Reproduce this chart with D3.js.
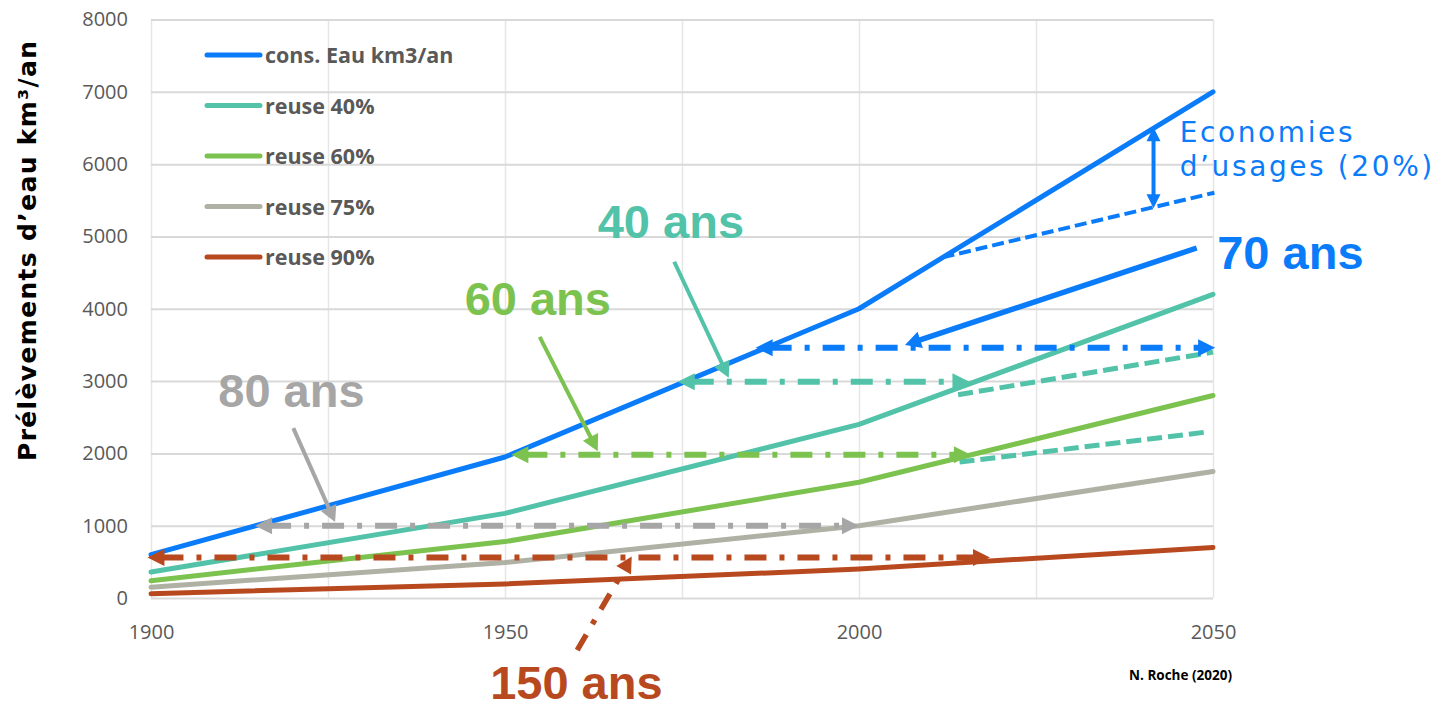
<!DOCTYPE html>
<html>
<head>
<meta charset="utf-8">
<script src="https://cdn.jsdelivr.net/npm/d3@7/dist/d3.min.js"></script>
<style>
  body { margin: 0; background: #fff; }
</style>
</head>
<body>
<svg id="chart" width="1447" height="709"></svg>
<script>
// data
var years = [1900, 1950, 2000, 2050];
var seriesNames = ["cons. Eau km3/an", "reuse 40%", "reuse 60%", "reuse 75%", "reuse 90%"];
var consEau = [600, 1950, 4000, 7000];
var reuse40 = [360, 1170, 2400, 4200];
var reuse60 = [240, 780, 1600, 2800];
var reuse75 = [150, 490, 1000, 1750];
var reuse90 = [60, 195, 400, 700];
var seriesValues = [consEau, reuse40, reuse60, reuse75, reuse90];

var yTicks = [0, 1000, 2000, 3000, 4000, 5000, 6000, 7000, 8000];
var xGrid = [1900, 1925, 1950, 1975, 2000, 2025, 2050];
var xLabels = [1900, 1950, 2000, 2050];

// annotations, in years / km3
var savingsLine = [[2011.8, 4710], [2050.2, 5605]];
var savingsArrow = [2041.6, 6510, 5390];
var reuseDashed = [
  [[2014, 2810], [2050, 3400]],
  [[2014.2, 1880], [2049.5, 2300]]
];
var spanLevels = [3460, 2990, 1980, 1000, 560];
var spanFrom = [1985.4, 1974.4, 1950.9, 1914.7, 1899.5];
var spanTo = [2050.3, 2015.6, 2015.8, 2000, 2018.5];
var pointerFrom = [[2047.7, 4840], [1973.9, 4650], [1954.9, 3610], [1920.1, 2350], [1960.2, -720]];
var pointerTo = [[2006.5, 3500], [1981.6, 3045], [1963.1, 2030], [1926.0, 1050], [1967.9, 575]];
var ageLabels = ["70 ans", "40 ans", "60 ans", "80 ans", "150 ans"];
var ageLabelAt = [[2050.6, 4550], [1963.1, 4978], [1944.3, 3914], [1909.5, 2641], [1947.9, -1400]];
var savingsText = ["Economies", "d\u2019usages (20%)"];
var savingsTextAt = [[2045.3, 6306], [2045.3, 5836]];

var colors = ["#0a7cfa", "#52c3a9", "#7cc24f", "#b0b1a5", "#b8491f"];
var spanColors = ["#0a7cfa", "#52c3a9", "#7cc24f", "#a6a6a6", "#b8491f"];
var labelColors = ["#0a7cfa", "#52c3a9", "#7cc24f", "#a6a6a6", "#b8491f"];

var svg = d3.select("#chart");
var x = d3.scaleLinear().domain([1900, 2050]).range([151, 1213]);
var y = d3.scaleLinear().domain([0, 8000]).range([598, 19.5]);

// grid + axes
var gx = svg.append("g").attr("transform", "translate(0,598)")
  .call(d3.axisBottom(x).tickValues(xGrid).tickSize(-(598 - 19.5)).tickPadding(27)
    .tickFormat(function(d) { return xLabels.indexOf(d) >= 0 ? d : ""; }));
gx.select(".domain").remove();
gx.selectAll(".tick line").attr("stroke", "#e6e6e6").attr("stroke-width", 1.5);
gx.selectAll(".tick text").attr("font-family", "Open Sans").attr("font-size", 20).attr("fill", "#595959");

var gy = svg.append("g").attr("transform", "translate(151,0)")
  .call(d3.axisLeft(y).tickValues(yTicks).tickSize(-(1213 - 151)).tickPadding(23).tickFormat(d3.format("d")));
gy.select(".domain").remove();
gy.selectAll(".tick line").attr("stroke", "#d9d9d9").attr("stroke-width", 2);
gy.selectAll(".tick text").attr("font-family", "Open Sans").attr("font-size", 20).attr("fill", "#595959");

// series
var line = d3.line().x(function(d) { return x(d[0]); }).y(function(d) { return y(d[1]); });
seriesValues.forEach(function(vals, i) {
  svg.append("path")
    .datum(years.map(function(yr, j) { return [yr, vals[j]]; }))
    .attr("d", line)
    .attr("fill", "none")
    .attr("stroke", colors[i])
    .attr("stroke-width", 5)
    .attr("stroke-linejoin", "round")
    .attr("stroke-linecap", "round");
});

// helpers
function head(tip, from, len, half, color) {
  var dx = tip[0] - from[0], dy = tip[1] - from[1];
  var d = Math.sqrt(dx * dx + dy * dy);
  var ux = dx / d, uy = dy / d;
  var bx = tip[0] - ux * len, by = tip[1] - uy * len;
  svg.append("polygon")
    .attr("points", [tip, [bx - uy * half, by + ux * half], [bx + uy * half, by - ux * half]]
      .map(function(p) { return p.join(","); }).join(" "))
    .attr("fill", color);
}
function shorten(a, b, len) {
  var dx = b[0] - a[0], dy = b[1] - a[1];
  var d = Math.sqrt(dx * dx + dy * dy);
  return [b[0] - dx / d * len, b[1] - dy / d * len];
}
var dashDot = "22,13,5,13";

// savings dashed line and double arrow
svg.append("line")
  .attr("x1", x(savingsLine[0][0])).attr("y1", y(savingsLine[0][1]))
  .attr("x2", x(savingsLine[1][0])).attr("y2", y(savingsLine[1][1]))
  .attr("stroke", colors[0]).attr("stroke-width", 4).attr("stroke-dasharray", "12,5");
(function() {
  var top = [x(savingsArrow[0]), y(savingsArrow[1])];
  var bot = [x(savingsArrow[0]), y(savingsArrow[2])];
  svg.append("line").attr("x1", top[0]).attr("y1", top[1] + 12).attr("x2", bot[0]).attr("y2", bot[1] - 12)
    .attr("stroke", colors[0]).attr("stroke-width", 4);
  head(top, bot, 14, 7, colors[0]);
  head(bot, top, 14, 7, colors[0]);
})();

// reuse dashed lines
reuseDashed.forEach(function(seg) {
  svg.append("line")
    .attr("x1", x(seg[0][0])).attr("y1", y(seg[0][1]))
    .attr("x2", x(seg[1][0])).attr("y2", y(seg[1][1]))
    .attr("stroke", colors[1]).attr("stroke-width", 5).attr("stroke-dasharray", "15,6");
});

// dash-dot range arrows
spanLevels.forEach(function(v, i) {
  var a = [x(spanFrom[i]), y(v)], b = [x(spanTo[i]), y(v)];
  svg.append("line")
    .attr("x1", a[0] + 14).attr("y1", a[1]).attr("x2", b[0] - 14).attr("y2", b[1])
    .attr("stroke", spanColors[i]).attr("stroke-width", 6).attr("stroke-dasharray", dashDot);
  head(a, b, 17, 8.5, spanColors[i]);
  head(b, a, 17, 8.5, spanColors[i]);
});

// pointer arrows
pointerFrom.forEach(function(f, i) {
  var a = [x(f[0]), y(f[1])], b = [x(pointerTo[i][0]), y(pointerTo[i][1])];
  var e = shorten(a, b, 12);
  svg.append("line")
    .attr("x1", a[0]).attr("y1", a[1]).attr("x2", e[0]).attr("y2", e[1])
    .attr("stroke", labelColors[i]).attr("stroke-width", i === 0 || i === 4 ? 5.5 : 4)
    .attr("stroke-dasharray", i === 4 ? "18,12,5,12" : null);
  head(b, a, 16, 8.5, labelColors[i]);
});

// labels
ageLabels.forEach(function(t, i) {
  svg.append("text")
    .attr("x", x(ageLabelAt[i][0])).attr("y", y(ageLabelAt[i][1]))
    .attr("font-family", "Liberation Sans, Arial, sans-serif").attr("font-weight", "bold")
    .attr("font-size", 47).attr("fill", labelColors[i]).text(t);
});
savingsText.forEach(function(t, i) {
  svg.append("text")
    .attr("x", x(savingsTextAt[i][0])).attr("y", y(savingsTextAt[i][1]))
    .attr("font-family", "DejaVu Sans, sans-serif").attr("font-size", 28)
    .attr("letter-spacing", 2.6).attr("fill", colors[0]).text(t);
});

// legend
seriesNames.forEach(function(n, i) {
  var ly = 55 + i * 50.5;
  svg.append("line").attr("x1", 207).attr("x2", 260).attr("y1", ly).attr("y2", ly)
    .attr("stroke", colors[i]).attr("stroke-width", 5).attr("stroke-linecap", "round");
  svg.append("text").attr("x", 265).attr("y", ly + 8)
    .attr("font-family", "Open Sans").attr("font-weight", "bold").attr("font-size", 21.5)
    .attr("fill", "#595959").text(n);
});

// y title
svg.append("text")
  .attr("transform", "translate(36,251) rotate(-90)")
  .attr("text-anchor", "middle")
  .attr("font-family", "DejaVu Sans, sans-serif").attr("font-weight", "bold").attr("font-size", 25)
  .attr("textLength", 420).attr("lengthAdjust", "spacing")
  .attr("fill", "#000").text("Pr\u00e9l\u00e8vements d\u2019eau km\u00b3/an");

// credit
svg.append("text").attr("x", 1232).attr("y", 680).attr("text-anchor", "end")
  .attr("font-family", "Open Sans").attr("font-weight", "bold").attr("font-size", 13.5)
  .attr("fill", "#000").text("N. Roche (2020)");
</script>
</body>
</html>
